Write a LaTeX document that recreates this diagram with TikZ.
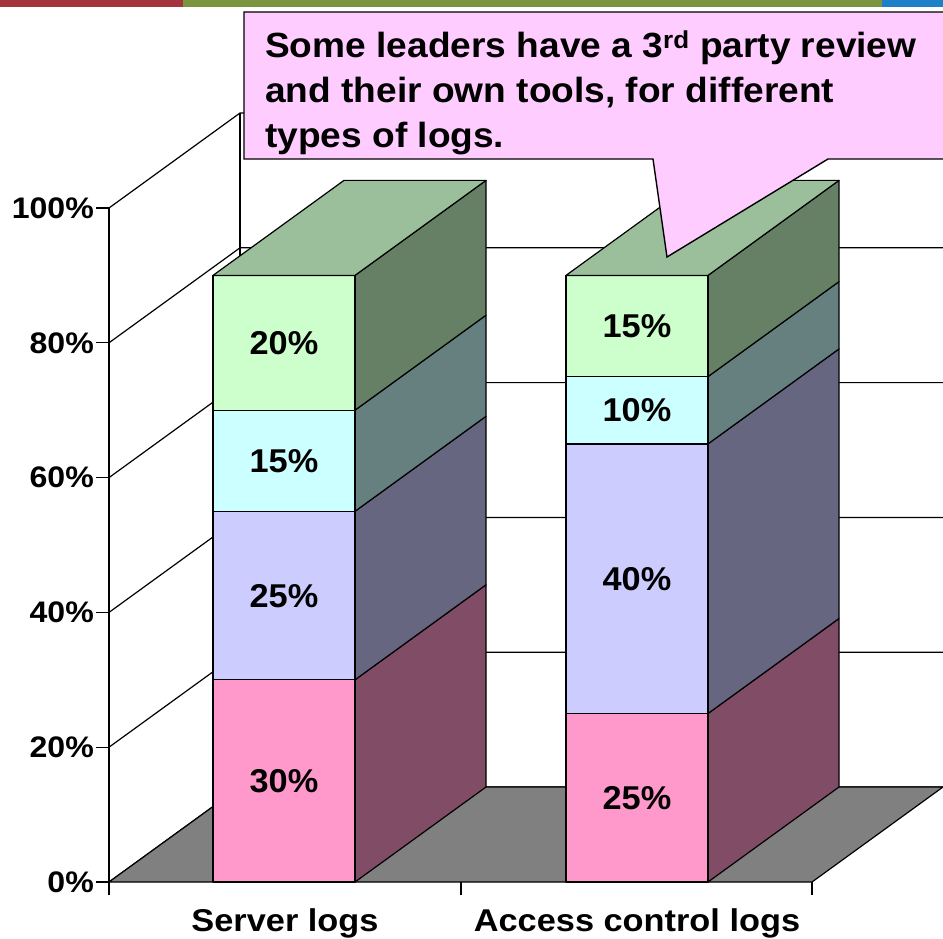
\documentclass[tikz,border=0pt]{standalone}
\usepackage{fontspec}
\setmainfont{Liberation Sans}
\newfontfamily\calloutface[FakeStretch=1.06]{Liberation Sans}
\newfontfamily\axisface[FakeStretch=1.08]{Liberation Sans}
\newfontfamily\valueface[FakeStretch=1.04]{Liberation Sans}
\newfontfamily\catface[FakeStretch=1.09]{Liberation Sans}

\definecolor{stripred}{HTML}{A3343E}
\definecolor{stripgreen}{HTML}{7A9440}
\definecolor{stripblue}{HTML}{1E80C8}
\definecolor{pinkF}{HTML}{FF99CC}
\definecolor{pinkS}{HTML}{804C66}
\definecolor{lavF}{HTML}{CCCCFF}
\definecolor{lavS}{HTML}{666680}
\definecolor{cyanF}{HTML}{CCFFFF}
\definecolor{cyanS}{HTML}{668080}
\definecolor{greenF}{HTML}{CCFFCC}
\definecolor{greenS}{HTML}{668066}
\definecolor{greenT}{HTML}{9BBF9B}
\definecolor{floorgray}{HTML}{808080}
\definecolor{noteF}{HTML}{FFCCFF}

% one stacked block: left x, bottom y, top y, front colour, side colour
\newcommand\stackblock[5]{%
  \filldraw[barline,fill=#5] (#1+142,#2) -- ++(131,-95) -- (#1+273,#3-95) -- (#1+142,#3) -- cycle;
  \filldraw[barline,fill=#4] (#1,#2) rectangle (#1+142,#3);
}
\newcommand\stacktop[2]{%
  \filldraw[barline,fill=greenT] (#1,#2) -- ++(131,-95) -- ++(142,0) -- ++(-131,95) -- cycle;
}

\begin{document}
\begin{tikzpicture}[x=1pt,y=-1pt,
  barline/.style={draw=black,line width=1.2pt,line join=round},
  gridline/.style={draw=black,line width=1.2pt},
  axislabel/.style={inner sep=0pt,anchor=east,font=\axisface\bfseries\fontsize{29.7}{34}\selectfont},
  valuelabel/.style={inner sep=0pt,font=\valueface\bfseries\fontsize{33}{38}\selectfont},
  catlabel/.style={inner sep=0pt,anchor=base,font=\catface\bfseries\fontsize{31.5}{36}\selectfont},
  notetext/.style={inner sep=0pt,anchor=base west,font=\calloutface\bfseries\fontsize{35}{45}\selectfont}]
\useasboundingbox[fill=white] (0,0) rectangle (943,939);

% gridlines: side wall diagonals and back wall horizontals
\foreach \v in {0,20,...,100}{
  \draw[gridline] (109,{882-6.74*\v}) -- ++(131,-95) -- (960,{787-6.74*\v});
}
\draw[gridline] (240,113) -- (240,787);

% floor
\filldraw[gridline,fill=floorgray] (109,882) -- (812,882) -- (943,787) -- (240,787) -- cycle;

% axes and ticks
\draw[gridline] (109,208) -- (109,882);
\foreach \v/\n in {0/a0,20/a20,40/a40,60/a60,80/a80,100/a100}{
  \draw[gridline] (96,{882-6.74*\v}) -- (109,{882-6.74*\v});
  \node[axislabel] (\n) at (94,{882-6.74*\v}) {\v\%};
}
\foreach \x in {109,461,812}{
  \draw[gridline] (\x,882) -- (\x,895);
}

% Server logs
\stackblock{213}{882}{679.8}{pinkF}{pinkS}
\stackblock{213}{679.8}{511.3}{lavF}{lavS}
\stackblock{213}{511.3}{410.2}{cyanF}{cyanS}
\stackblock{213}{410.2}{275.4}{greenF}{greenS}
\stacktop{213}{275.4}

% Access control logs
\stackblock{566}{882}{713.5}{pinkF}{pinkS}
\stackblock{566}{713.5}{443.9}{lavF}{lavS}
\stackblock{566}{443.9}{376.6}{cyanF}{cyanS}
\stackblock{566}{376.6}{275.4}{greenF}{greenS}
\stacktop{566}{275.4}

% values
\node[valuelabel] (s30) at (284,781) {30\%};
\node[valuelabel] (s25) at (284,596) {25\%};
\node[valuelabel] (s15) at (284,461) {15\%};
\node[valuelabel] (s20) at (284,343) {20\%};
\node[valuelabel] (c25) at (637,798) {25\%};
\node[valuelabel] (c40) at (637,579) {40\%};
\node[valuelabel] (c10) at (637,410) {10\%};
\node[valuelabel] (c15) at (637,326) {15\%};

% categories
\node[catlabel] (server) at (285,931.5) {Server logs};
\node[catlabel] (access) at (637,931.5) {Access control logs};

% callout
\filldraw[draw=black,line width=1.4pt,fill=noteF,line join=miter]
  (244,12) -- (960,12) -- (960,159) -- (828,159) -- (667,257) -- (653,159) -- (244,159) -- cycle;
\node[notetext] (note1) at (265,57.5) {Some leaders have a 3\textsuperscript{rd} party review};
\node[notetext] (note2) at (265,102.5) {and their own tools, for different};
\node[notetext] (note3) at (265,147.5) {types of logs.};

% header strip
\fill[stripred] (0,0) rectangle (183,7);
\fill[stripgreen] (183,0) rectangle (882,7);
\fill[stripblue] (882,0) rectangle (943,7);
\end{tikzpicture}
\end{document}
